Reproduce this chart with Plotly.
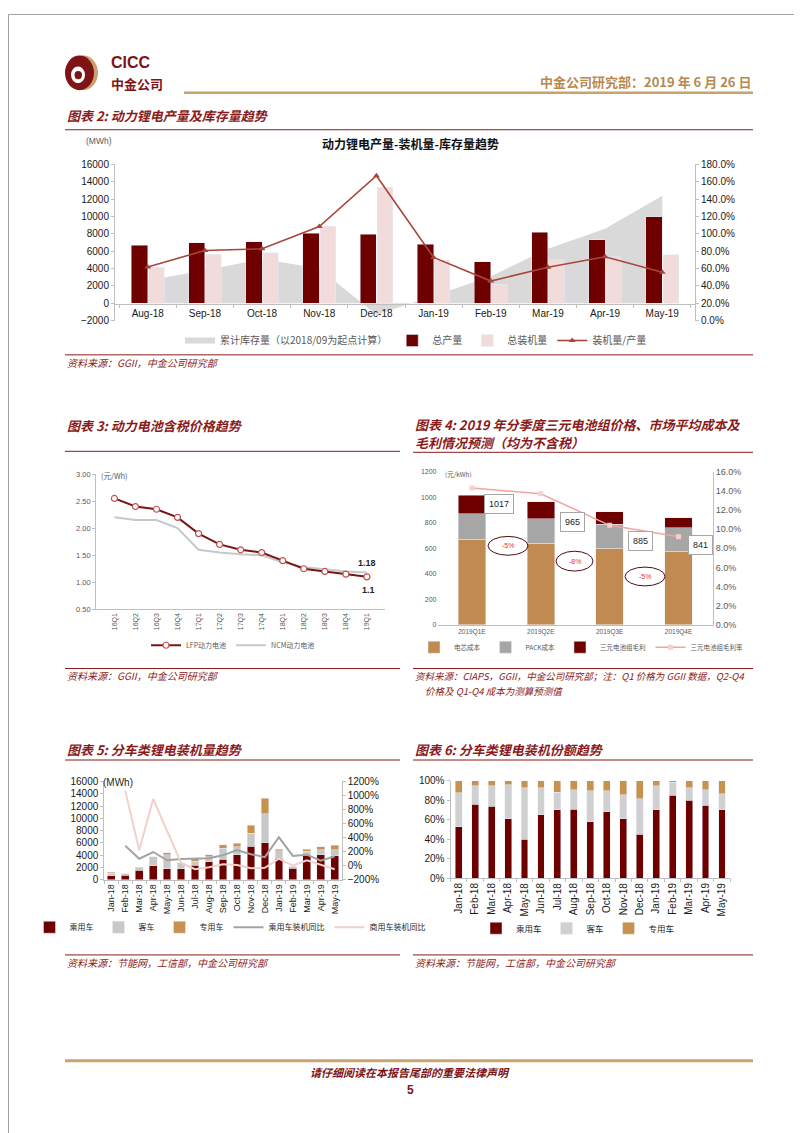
import plotly.graph_objects as go

W, H = 802, 1133
def px(x): return x / W
def py(y): return 1 - y / H

DARK = "#6E0000"
RED_T = "#8B1A1A"
GOLD = "#C9A36B"
CJK = "Noto Sans CJK SC"
LAT = "Liberation Sans"
FAM = f"{LAT}, {CJK}"

# ---------------- Chart 2 data ----------------
months_a = ["Aug-18", "Sep-18", "Oct-18", "Nov-18", "Dec-18", "Jan-19", "Feb-19", "Mar-19", "Apr-19", "May-19"]
inventory = [2640, 3800, 5100, 4000, -1300, 870, 3100, 6300, 8600, 12400]
production = [6700, 7000, 7100, 8100, 7950, 6800, 4800, 8200, 7300, 10000]
installed = [4180, 5660, 5850, 8850, 13340, 4960, 2190, 5040, 5380, 5580]
ratio = [0.618, 0.809, 0.828, 1.085, 1.67, 0.729, 0.456, 0.615, 0.737, 0.558]

# ---------------- Chart 3 data ----------------
quarters = ["16Q1", "16Q2", "16Q3", "16Q4", "17Q1", "17Q2", "17Q3", "17Q4", "18Q1", "18Q2", "18Q3", "18Q4", "19Q1"]
lfp = [2.55, 2.40, 2.35, 2.20, 1.90, 1.70, 1.60, 1.55, 1.40, 1.25, 1.20, 1.15, 1.10]
ncm = [2.20, 2.15, 2.15, 2.00, 1.60, 1.55, 1.52, 1.50, 1.37, 1.28, 1.24, 1.20, 1.18]

# ---------------- Chart 4 data ----------------
q_e = ["2019Q1E", "2019Q2E", "2019Q3E", "2019Q4E"]
cell_cost = [670, 640, 600, 575]
pack_cost = [200, 190, 190, 185]
gross_profit = [147, 135, 95, 81]
price = [1017, 965, 885, 841]
margin_rate = [0.143, 0.137, 0.104, 0.092]

# ---------------- Chart 5 data ----------------
months_b = ["Jan-18", "Feb-18", "Mar-18", "Apr-18", "May-18", "Jun-18", "Jul-18", "Aug-18", "Sep-18",
            "Oct-18", "Nov-18", "Dec-18", "Jan-19", "Feb-19", "Mar-19", "Apr-19", "May-19"]
passenger = [660, 760, 1520, 2260, 1760, 1820, 2380, 2910, 3310, 4050, 5430, 5990, 3470, 1850, 4000, 4050, 3920]
bus = [430, 190, 430, 1300, 2330, 780, 610, 820, 1820, 1310, 2140, 4790, 1240, 310, 650, 860, 950]
special = [160, 50, 100, 150, 310, 200, 410, 370, 570, 590, 1330, 2520, 240, 40, 350, 490, 730]
pv_yoy = [None, 2.85, 1.00, 1.95, 0.77, 0.96, 0.96, 1.05, 1.48, 2.23, 1.64, 1.22, 4.05, 1.40, 1.57, 0.70, 1.35]
cv_yoy = [None, 10.7, 2.2, 9.5, 4.9, 0.4, -0.5, -0.22, 0.21, 0.11, -0.36, -0.30, 1.00, 0.0, 0.77, 0.10, -0.50]

# ---------------- Chart 6 data ----------------
pv_share = [53, 76, 74, 61, 40, 65, 70, 71, 58, 68, 61, 45, 70, 85, 80, 75, 70]
bus_share = [34.5, 19, 21, 35, 53, 28, 18, 20, 32, 22, 24.5, 36.5, 25, 13.3, 13, 16, 16.5]
special_share = [12.5, 5, 5, 4, 7, 7, 12, 9, 10, 10, 14.5, 18.5, 5, 1.7, 7, 9, 13.5]

fig = go.Figure()

# ---- chart 2 traces
fig.add_trace(go.Scatter(x=months_a, y=inventory, name="累计库存量（以2018/09为起点计算）", mode="none",
                         fill="tozeroy", fillcolor="#D9D9D9", xaxis="x", yaxis="y", legend="legend"))
fig.add_trace(go.Bar(x=months_a, y=production, name="总产量", marker_color=DARK, offset=-0.285, width=0.285,
                     xaxis="x", yaxis="y2", legend="legend"))
fig.add_trace(go.Bar(x=months_a, y=installed, name="总装机量", marker_color="#F2DCDB", offset=0.015, width=0.27,
                     xaxis="x", yaxis="y3", legend="legend"))
fig.add_trace(go.Scatter(x=months_a, y=ratio, name="装机量/产量", mode="lines+markers",
                         line=dict(color="#A8463D", width=1.6),
                         marker=dict(symbol="triangle-up", size=6, color="#A8463D"),
                         xaxis="x", yaxis="y4", legend="legend"))

# ---- chart 3 traces
fig.add_trace(go.Scatter(x=quarters, y=ncm, name="NCM动力电池", mode="lines", line=dict(color="#C8C8C8", width=2),
                         xaxis="x2", yaxis="y5", legend="legend2", legendrank=2))
fig.add_trace(go.Scatter(x=quarters, y=lfp, name="LFP动力电池", mode="lines+markers",
                         line=dict(color="#7B1414", width=2),
                         marker=dict(symbol="circle", size=6, color="white", line=dict(color="#C0504D", width=1.2)),
                         xaxis="x2", yaxis="y5", legend="legend2", legendrank=1))

# ---- chart 4 traces
fig.add_trace(go.Bar(x=q_e, y=cell_cost, name="电芯成本", marker_color="#C08A50", width=0.4,
                     xaxis="x3", yaxis="y6", legend="legend3"))
fig.add_trace(go.Bar(x=q_e, y=pack_cost, name="PACK成本", marker_color="#A6A6A6", width=0.4,
                     xaxis="x3", yaxis="y6", legend="legend3"))
fig.add_trace(go.Bar(x=q_e, y=gross_profit, name="三元电池组毛利", marker_color=DARK, width=0.4,
                     xaxis="x3", yaxis="y6", legend="legend3"))
fig.add_trace(go.Scatter(x=q_e, y=margin_rate, name="三元电池组毛利率", mode="lines+markers",
                         line=dict(color="#F4A3A0", width=1.5),
                         marker=dict(symbol="square", size=5, color="#F6CFCF"),
                         xaxis="x3", yaxis="y7", legend="legend3"))

# ---- chart 5 traces
fig.add_trace(go.Bar(x=months_b, y=passenger, name="乘用车", marker_color=DARK, width=0.55,
                     xaxis="x4", yaxis="y8", legend="legend4"))
fig.add_trace(go.Bar(x=months_b, y=bus, name="客车", marker_color="#C8C8C8", width=0.55,
                     xaxis="x4", yaxis="y8", legend="legend4"))
fig.add_trace(go.Bar(x=months_b, y=special, name="专用车", marker_color="#C8914E", width=0.55,
                     xaxis="x4", yaxis="y8", legend="legend4"))
fig.add_trace(go.Scatter(x=months_b, y=pv_yoy, name="乘用车装机同比", mode="lines",
                         line=dict(color="#A3A3A3", width=2), xaxis="x4", yaxis="y9", legend="legend4"))
fig.add_trace(go.Scatter(x=months_b, y=cv_yoy, name="商用车装机同比", mode="lines",
                         line=dict(color="#F2D0CB", width=2), xaxis="x4", yaxis="y9", legend="legend4"))

# ---- chart 6 traces
fig.add_trace(go.Bar(x=months_b, y=pv_share, name="乘用车", marker_color=DARK, width=0.42,
                     xaxis="x5", yaxis="y10", legend="legend5"))
fig.add_trace(go.Bar(x=months_b, y=bus_share, name="客车", marker_color="#D0D0D0", width=0.42,
                     xaxis="x5", yaxis="y10", legend="legend5"))
fig.add_trace(go.Bar(x=months_b, y=special_share, name="专用车", marker_color="#C8914E", width=0.42,
                     xaxis="x5", yaxis="y10", legend="legend5"))

AX = "#BFBFBF"
def xcat(domain, anchor, size, color="#1a1a1a", angle=0, ticks="outside", **kw):
    d = dict(domain=domain, anchor=anchor, type="category", showline=True, linecolor=AX, linewidth=1,
             ticks=ticks, tickson="boundaries", ticklen=3, tickcolor=AX, tickangle=angle,
             tickfont=dict(family=LAT, size=size, color=color), showgrid=False, zeroline=False, fixedrange=True)
    d.update(kw)
    return d

def yval(domain, anchor, rng, dtick, size, color="#1a1a1a", showline=True, **kw):
    d = dict(domain=domain, anchor=anchor, range=rng, dtick=dtick, showline=showline, linecolor=AX, linewidth=1,
             ticks="outside" if showline else "", ticklen=3, tickcolor=AX,
             tickfont=dict(family=LAT, size=size, color=color), showgrid=False, zeroline=False, fixedrange=True)
    d.update(kw)
    return d

d2y = [py(310), py(152)]
d3y = [py(601.7), py(465)]
d4y = [py(617.3), py(462.7)]
d5y = [py(875), py(775.7)]
d6y = [py(873.3), py(775)]

def legend_at(x, y, size, color="#595959"):
    return dict(x=px(x), y=py(y), xanchor="center", yanchor="middle", orientation="h",
                font=dict(family=CJK, size=size, color=color), bgcolor="rgba(0,0,0,0)",
                itemwidth=30, traceorder="normal", tracegroupgap=0)

layout = dict(
    width=W, height=H, margin=dict(l=0, r=0, t=0, b=0),
    paper_bgcolor="white", plot_bgcolor="white", barmode="stack", showlegend=True,
    font=dict(family=FAM, size=10, color="#262626"),
    # chart 2
    xaxis=xcat([px(107), px(687)], "free", 10, position=py(293.3)),
    yaxis=yval(d2y, "x", [-2000, 16000], 2000, 10, tickformat="d"),
    yaxis2=dict(overlaying="y", anchor="x", range=[-2000, 16000], visible=False, fixedrange=True),
    yaxis3=dict(overlaying="y", anchor="x", range=[-2000, 16000], visible=False, fixedrange=True),
    yaxis4=yval(d2y, "x", [0, 1.8], 0.2, 10, overlaying="y", side="right", tickformat=".1%"),
    # chart 3
    xaxis2=xcat([px(88.2), px(377.1)], "y5", 7, color="#595959", angle=-90, ticks=""),
    yaxis5=yval(d3y, "x2", [0.5, 3.0], 0.5, 7.5, color="#595959", tickformat=".2f"),
    # chart 4
    xaxis3=xcat([px(429.5), px(705)], "y6", 6.5, color="#595959", ticks=""),
    yaxis6=yval(d4y, "x3", [0, 1200], 200, 7, color="#595959", showline=False, tickformat="d"),
    yaxis7=yval(d4y, "x3", [0, 0.16], 0.02, 9, color="#595959", overlaying="y6", side="right",
                tickformat=".1%", ticks=""),
    # chart 5
    xaxis4=xcat([px(96.3), px(333.7)], "y8", 9, angle=-90),
    yaxis8=yval(d5y, "x4", [0, 16000], 2000, 10, tickformat="d"),
    yaxis9=yval(d5y, "x4", [-2, 12], 2, 10, overlaying="y8", side="right", tickformat=".0%"),
    # chart 6
    xaxis5=xcat([px(442.5), px(722.2)], "y10", 10, angle=-90),
    yaxis10=yval(d6y, "x5", [0, 100], 20, 10, ticksuffix="%"),
    legend=legend_at(408, 330, 10),
    legend2=legend_at(225, 638, 7),
    legend3=legend_at(573, 640, 6.5),
    legend4=legend_at(222, 923, 8, "#262626"),
    legend5=legend_at(570, 924, 8.5, "#262626"),
)
fig.update_layout(**layout)

annotations = []
def ann(text, x, y, size=10, color="#262626", xanchor="left", family=CJK, weight="normal", style="normal", **kw):
    a = dict(text=text, x=px(x), y=py(y), xref="paper", yref="paper", xanchor=xanchor, yanchor="middle",
             showarrow=False, font=dict(family=family, size=size, color=color, weight=weight, style=style))
    a.update(kw)
    annotations.append(a)

shapes = []
def hline(x0, x1, y, color=RED_T, width=1):
    shapes.append(dict(type="line", xref="paper", yref="paper", x0=px(x0), x1=px(x1), y0=py(y), y1=py(y),
                       line=dict(color=color, width=width)))

# page border
shapes.append(dict(type="rect", xref="paper", yref="paper", x0=px(0.5), x1=px(801.5), y0=py(1132.5), y1=py(0.5),
                   line=dict(color="#A0A0A0", width=1)))

# header / logo
shapes.append(dict(type="circle", xref="paper", yref="paper", x0=px(61), x1=px(90), y0=py(77), y1=py(42),
                   fillcolor="#C9A36B", line=dict(width=0)))
shapes.append(dict(type="circle", xref="paper", yref="paper", x0=px(57), x1=px(86), y0=py(77), y1=py(42),
                   fillcolor="#7E1416", line=dict(width=0)))
shapes.append(dict(type="circle", xref="paper", yref="paper", x0=px(63), x1=px(77), y0=py(70), y1=py(53),
                   fillcolor="white", line=dict(width=0)))
shapes.append(dict(type="circle", xref="paper", yref="paper", x0=px(66.5), x1=px(74), y0=py(66), y1=py(57.5),
                   fillcolor="#7E1416", line=dict(width=0)))
ann("<b>CICC</b>", 101, 49, size=16, color="#7E1416", family=LAT)
ann("<b>中金公司</b>", 101, 70.5, size=13, color="#7E1416")
ann("中金公司研究部：2019 年 6 月 26 日", 745, 68, size=13, color="#B8894F", xanchor="right", weight="bold")
hline(176, 745, 79.5, color=GOLD, width=2.5)

TSZ = 13
# chart 2 frame texts
ann("图表 2: 动力锂电产量及库存量趋势", 57, 103, size=TSZ, color=RED_T, weight="bold", style="italic")
hline(57, 745, 117)
ann("动力锂电产量-装机量-库存量趋势", 402, 131, size=12, color="#111111", xanchor="center", weight="bold")
ann("(MWh)", 91, 128, size=8.5, color="#595959", xanchor="center", family=LAT)
hline(57, 745, 344.5)
ann("资料来源：GGII，中金公司研究部", 57, 352, size=10, color=RED_T, style="italic")

# chart 3 texts
ann("图表 3: 动力电池含税价格趋势", 57, 416, size=TSZ, color=RED_T, weight="bold", style="italic")
hline(57, 392, 442)
ann("(元/Wh)", 106, 466, size=7.5, color="#595959", xanchor="center")
annotations.append(dict(text=f"{ncm[-1]:g}", x=quarters[-1], y=ncm[-1], xref="x2", yref="y5", showarrow=False,
                        yshift=10, font=dict(family=LAT, size=9, color="#262626", weight="bold")))
annotations.append(dict(text=f"{lfp[-1]:g}", x=quarters[-1], y=lfp[-1], xref="x2", yref="y5", showarrow=False,
                        yshift=-13, xshift=2, font=dict(family=LAT, size=9, color="#262626", weight="bold")))
hline(57, 392, 661.5)
ann("资料来源：GGII，中金公司研究部", 57, 669, size=10, color=RED_T, style="italic")

# chart 4 texts
ann("图表 4: 2019 年分季度三元电池组价格、市场平均成本及", 405, 415, size=TSZ, color=RED_T, weight="bold", style="italic")
ann("毛利情况预测（均为不含税）", 405, 433, size=TSZ, color=RED_T, weight="bold", style="italic")
hline(405, 745, 443)
ann("(元/kWh)", 450, 465, size=6.5, color="#595959", xanchor="center")
box_pos = [(491, 495.5), (564, 513), (632, 532.5), (692.5, 536.5)]
for (bx, by), p in zip(box_pos, price):
    ann(str(p), bx, by, size=9, color="#262626", xanchor="center", family=LAT,
        bgcolor="white", bordercolor="#A6A6A6", borderwidth=1, borderpad=4)
ell_pos = [(480, 520, 528, 547), (548, 585, 543, 563), (617, 657, 559, 578)]
for i, (x0, x1, y0, y1) in enumerate(ell_pos):
    shapes.append(dict(type="circle", xref="paper", yref="paper", x0=px(x0), x1=px(x1), y0=py(y1), y1=py(y0),
                       line=dict(color="#4A1010", width=1)))
    chg = round((price[i + 1] / price[i] - 1) * 100)
    ann(f"{chg}%", (x0 + x1) / 2, (y0 + y1) / 2, size=7, color="#E8322B", xanchor="center", family=LAT)
hline(405, 745, 661.5)
ann("资料来源：CIAPS，GGII，中金公司研究部；注：Q1 价格为 GGII 数据，Q2-Q4", 405, 669, size=9.5,
    color=RED_T, style="italic")
ann("价格及 Q1-Q4 成本为测算预测值", 415, 684, size=9.5, color=RED_T, style="italic")

# chart 5 texts
ann("图表 5: 分车类锂电装机量趋势", 57, 743, size=TSZ, color=RED_T, weight="bold", style="italic")
hline(57, 392, 754)
ann("(MWh)", 110, 777, size=10, color="#262626", xanchor="center", family=LAT)
hline(57, 392, 951)
ann("资料来源：节能网，工信部，中金公司研究部", 57, 959, size=10, color=RED_T, style="italic")

# chart 6 texts
ann("图表 6: 分车类锂电装机份额趋势", 405, 743, size=TSZ, color=RED_T, weight="bold", style="italic")
hline(405, 745, 754)
hline(405, 745, 951)
ann("资料来源：节能网，工信部，中金公司研究部", 405, 959, size=10, color=RED_T, style="italic")

# footer
hline(57, 745, 1058, color=GOLD, width=3)
ann("请仔细阅读在本报告尾部的重要法律声明", 402, 1069, size=11, color="#7E1416", xanchor="center",
    weight="bold", style="italic")
ann("5", 402, 1088, size=12, color="#7E1416", xanchor="center", family=LAT, weight="bold")

fig.update_layout(annotations=annotations, shapes=shapes)
fig.write_html("out.html")
